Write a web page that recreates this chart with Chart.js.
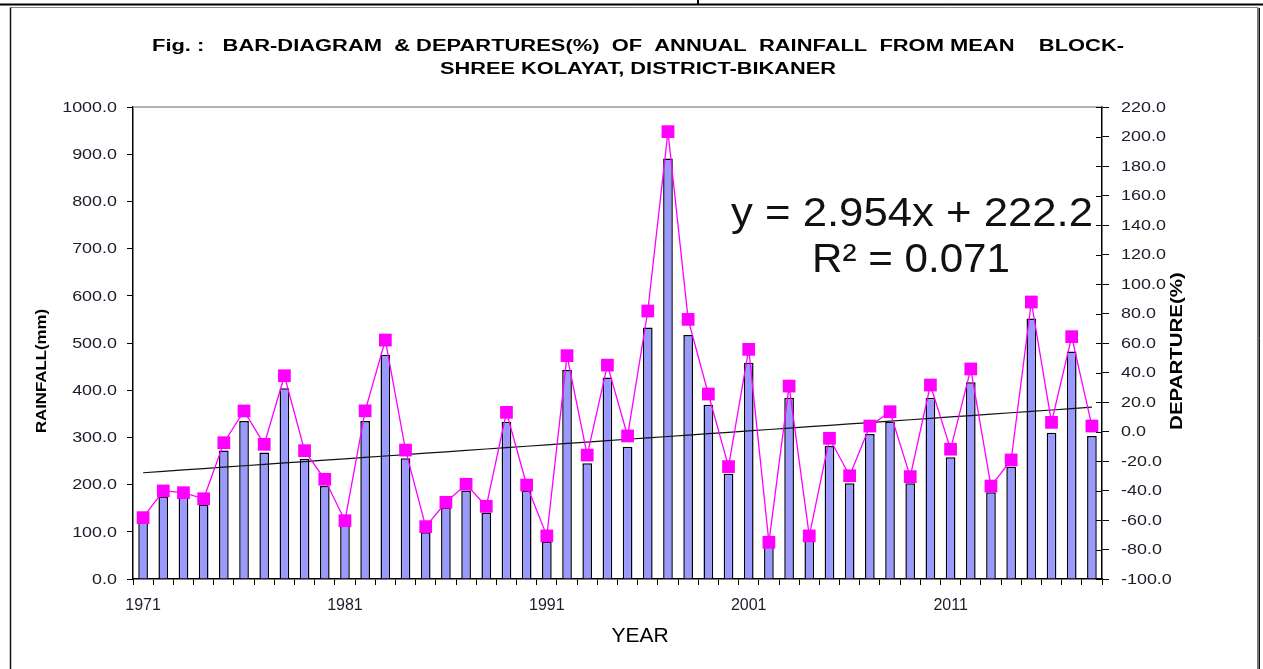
<!DOCTYPE html>
<html>
<head>
<meta charset="utf-8">
<title>Annual rainfall - Shree Kolayat</title>
<script src="https://cdn.jsdelivr.net/npm/chart.js@4.4.1/dist/chart.umd.min.js"></script>
<style>
  html, body { margin: 0; padding: 0; background: #fff; }
  canvas { display: block; }
</style>
</head>
<body>
<canvas id="rain" width="1263" height="669"></canvas>
<script>
/* ============================================================
   Annual rainfall bar diagram + departures from mean
   Block Shree Kolayat, District Bikaner
   ============================================================ */

// ── Data ─────────────────────────────────────────────────────
const years = [
  '1971', '1972', '1973', '1974', '1975', '1976', '1977', '1978', '1979', '1980',
  '1981', '1982', '1983', '1984', '1985', '1986', '1987', '1988', '1989', '1990',
  '1991', '1992', '1993', '1994', '1995', '1996', '1997', '1998', '1999', '2000',
  '2001', '2002', '2003', '2004', '2005', '2006', '2007', '2008', '2009', '2010',
  '2011', '2012', '2013', '2014', '2015', '2016', '2017', '2018'
];

// annual rainfall, mm
const rainfall = [
  120, 174, 172, 158, 272, 335, 268, 404, 255, 197,
  113, 335, 475, 256,  99, 151, 187, 141, 333, 187,
   79, 443, 245, 427, 280, 533, 891, 517, 369, 223,
  458,  69, 384,  81, 282, 203, 307, 333, 203, 384,
  258, 417, 184, 238, 552, 310, 482, 303
];

// departure from mean, %
const departure = [
  -58.4, -40.3, -41.5, -45.6,  -7.6,  13.9,  -8.7,  37.8, -13.0, -32.4,
  -60.5,  14.0,  62.0, -12.6, -64.5, -48.0, -35.8, -50.7,  13.0, -36.3,
  -70.8,  51.4, -16.0,  45.0,  -3.0,  81.7, 203.3,  76.0,  25.4, -23.8,
   55.7, -75.1,  30.8, -70.8,  -4.6, -30.0,   3.7,  13.4, -30.6,  31.5,
  -12.0,  42.4, -37.0, -19.3,  87.8,   6.2,  64.3,   3.7
];

// linear trend of rainfall (x = 1 for the first year)
const trendSlope = 2.954;
const trendIntercept = 222.2;
const trendR2 = 0.071;

// axis ranges
const rainTicks = { min: 0, max: 1000, step: 100 };
const depTicks = { min: -100, max: 220, step: 20 };
const yearLabelEvery = 10;

const trend = years.map((_, i) => +(trendSlope * (i + 1) + trendIntercept).toFixed(2));

// ── Helpers ──────────────────────────────────────────────────
const FONT = '"Liberation Sans", Arial, Helvetica, sans-serif';

// Draw text stretched horizontally (sx) or to a given width, optionally rotated
function drawText(ctx, text, x, y, o) {
  ctx.save();
  ctx.font = o.font;
  ctx.fillStyle = o.color || '#000';
  ctx.textAlign = o.align || 'left';
  ctx.textBaseline = o.baseline || 'alphabetic';
  const w = ctx.measureText(text).width;
  const sx = o.width ? o.width / w : (o.sx || 1);
  ctx.translate(x, y);
  if (o.rotate) ctx.rotate(o.rotate);
  ctx.scale(sx, 1);
  ctx.fillText(text, 0, 0);
  ctx.restore();
}

// ── Page frame, titles, custom axis labels ───────────────────
const decor = {
  id: 'decor',
  beforeDraw(chart) {
    const { ctx, width, height } = chart;
    ctx.save();
    ctx.fillStyle = '#fff';
    ctx.fillRect(0, 0, width, height);

    // rule above the box
    ctx.strokeStyle = '#000';
    ctx.lineWidth = 2;
    ctx.beginPath();
    ctx.moveTo(0, 4.5); ctx.lineTo(width, 4.5);
    ctx.moveTo(698, 0); ctx.lineTo(698, 4.5);
    ctx.stroke();

    // outer box
    ctx.strokeStyle = '#8a8a8a';
    ctx.lineWidth = 1;
    ctx.beginPath();
    ctx.moveTo(10.5, 7.5); ctx.lineTo(1258.5, 7.5);
    ctx.stroke();
    ctx.strokeStyle = '#111';
    ctx.lineWidth = 1.5;
    ctx.beginPath();
    ctx.moveTo(10.5, 7.5); ctx.lineTo(10.5, height);
    ctx.stroke();
    ctx.strokeStyle = '#777';
    ctx.lineWidth = 2;
    ctx.beginPath();
    ctx.moveTo(1258, 8); ctx.lineTo(1258, height);
    ctx.stroke();
    ctx.strokeStyle = '#111';
    ctx.lineWidth = 1;
    ctx.beginPath();
    ctx.moveTo(1259.5, 8); ctx.lineTo(1259.5, height);
    ctx.stroke();
    ctx.restore();
  },
  afterDraw(chart) {
    const { ctx, chartArea: a } = chart;
    const yL = chart.scales.y;
    const yR = chart.scales.y1;

    // grey frame line along the top of the plot
    ctx.save();
    ctx.strokeStyle = '#9a9a9a';
    ctx.lineWidth = 1.5;
    ctx.beginPath();
    ctx.moveTo(a.left, a.top); ctx.lineTo(a.right, a.top);
    ctx.stroke();

    // right axis ticks cross the axis line
    ctx.strokeStyle = '#000';
    ctx.lineWidth = 1;
    ctx.beginPath();
    yR.ticks.forEach(t => {
      const py = Math.round(yR.getPixelForValue(t.value)) + 0.5;
      ctx.moveTo(a.right - 6, py); ctx.lineTo(a.right, py);
    });
    ctx.stroke();
    ctx.restore();

    // tick labels
    yL.ticks.forEach(t => {
      drawText(ctx, t.value.toFixed(1), a.left - 16, yL.getPixelForValue(t.value) + 1,
        { font: '14px ' + FONT, color: '#1c1c2a', align: 'right', baseline: 'middle', sx: 1.28 });
    });
    yR.ticks.forEach(t => {
      drawText(ctx, t.value.toFixed(1), a.right + 19, yR.getPixelForValue(t.value) + 1,
        { font: '14px ' + FONT, color: '#1c1c2a', align: 'left', baseline: 'middle', sx: 1.28 });
    });

    // axis titles
    drawText(ctx, 'RAINFALL(mm)', 42, 371,
      { font: 'bold 15px ' + FONT, align: 'center', baseline: 'middle', rotate: -Math.PI / 2, sx: 1.12 });
    drawText(ctx, 'DEPARTURE(%)', 1178, 351,
      { font: 'bold 16px ' + FONT, align: 'center', baseline: 'middle', rotate: -Math.PI / 2, sx: 1.28 });
    drawText(ctx, 'YEAR', 640, 642, { font: '21px ' + FONT, align: 'center' });

    // figure title
    drawText(ctx, 'Fig. :   BAR-DIAGRAM  & DEPARTURES(%)  OF  ANNUAL  RAINFALL  FROM MEAN    BLOCK-', 638, 51,
      { font: 'bold 16px ' + FONT, align: 'center', width: 972 });
    drawText(ctx, 'SHREE KOLAYAT, DISTRICT-BIKANER', 638, 74,
      { font: 'bold 16px ' + FONT, align: 'center', width: 396 });

    // trendline equation
    drawText(ctx, `y = ${trendSlope}x + ${trendIntercept}`, 912, 226,
      { font: '40px ' + FONT, color: '#111', align: 'center', width: 362 });
    drawText(ctx, `R² = ${trendR2}`, 911, 272,
      { font: '40px ' + FONT, color: '#111', align: 'center', width: 198 });
  }
};

// ── Chart ────────────────────────────────────────────────────
new Chart(document.getElementById('rain'), {
  type: 'bar',
  data: {
    labels: years,
    datasets: [
      {
        label: 'Departure (%)',
        type: 'line',
        data: departure,
        yAxisID: 'y1',
        order: 1,
        borderColor: '#ff00ff',
        borderWidth: 1.3,
        tension: 0,
        pointStyle: 'rect',
        pointRadius: 9,
        pointBackgroundColor: '#ff00ff',
        pointBorderColor: '#ff00ff',
        pointBorderWidth: 0
      },
      {
        label: 'Linear (Rainfall)',
        type: 'line',
        data: trend,
        yAxisID: 'y',
        order: 2,
        borderColor: '#111',
        borderWidth: 1.2,
        pointRadius: 0
      },
      {
        label: 'Rainfall (mm)',
        data: rainfall,
        yAxisID: 'y',
        order: 3,
        backgroundColor: '#9999ff',
        borderColor: '#000',
        borderWidth: 1.5,
        barPercentage: 0.48,
        categoryPercentage: 1
      }
    ]
  },
  options: {
    responsive: false,
    animation: false,
    events: [],
    layout: { padding: { top: 107, left: 0, right: 0, bottom: 0 } },
    plugins: {
      legend: { display: false },
      title: { display: false },
      tooltip: { enabled: false }
    },
    scales: {
      x: {
        offset: true,
        grid: { offset: true, drawOnChartArea: false, drawTicks: true, tickLength: 6, color: '#000', lineWidth: 1 },
        border: { display: true, color: '#000', width: 1.5 },
        ticks: {
          autoSkip: false,
          maxRotation: 0,
          padding: 11,
          color: '#1c1c2a',
          font: { family: FONT, size: 16 },
          callback: (v, i) => (i % yearLabelEvery === 0 ? years[i] : '')
        },
        afterFit: s => { s.height = 90; }
      },
      y: {
        position: 'left',
        min: rainTicks.min,
        max: rainTicks.max,
        ticks: { stepSize: rainTicks.step, display: false },
        grid: { drawOnChartArea: false, drawTicks: true, tickLength: 6, color: '#000', lineWidth: 1 },
        border: { display: true, color: '#000', width: 1.5 },
        afterFit: s => { s.width = 133; }
      },
      y1: {
        position: 'right',
        min: depTicks.min,
        max: depTicks.max,
        ticks: { stepSize: depTicks.step, display: false },
        grid: { drawOnChartArea: false, drawTicks: true, tickLength: 7, color: '#000', lineWidth: 1 },
        border: { display: true, color: '#000', width: 1.5 },
        afterFit: s => { s.width = 161; }
      }
    }
  },
  plugins: [decor]
});
</script>
</body>
</html>
